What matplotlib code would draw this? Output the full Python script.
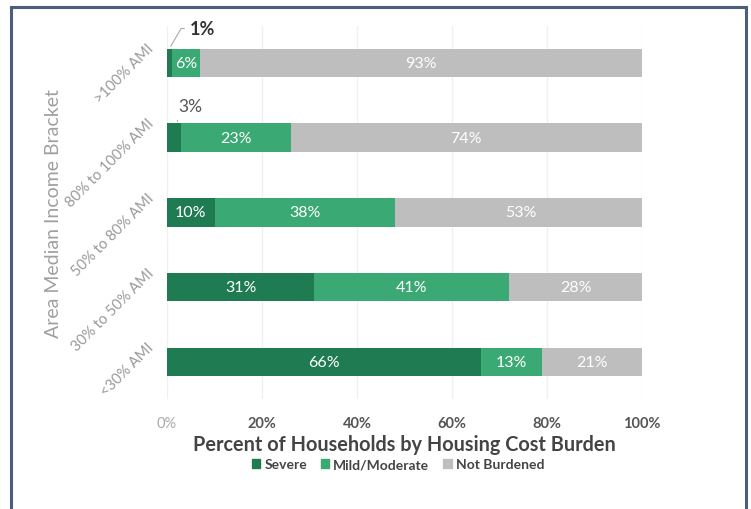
import matplotlib
matplotlib.use("Agg")
import matplotlib.pyplot as plt
import matplotlib.patches as patches
import numpy as np

# ====== data ======
brackets = ["<30% AMI", "30% to 50% AMI", "50% to 80% AMI", "80% to 100% AMI", ">100% AMI"]
severe = [66, 31, 10, 3, 1]
mild = [13, 41, 38, 23, 6]
not_burdened = [21, 28, 53, 74, 93]
series_names = ["Severe", "Mild/Moderate", "Not Burdened"]
x_ticks = [0, 20, 40, 60, 80, 100]

# ====== styles ======
colors = ["#1f7b51", "#3aa973", "#bebebe"]
plt.rcParams["font.family"] = ["Lato", "DejaVu Sans"]

fig = plt.figure(figsize=(7.51, 5.10), dpi=100)
ax = fig.add_axes([0.2224, 0.215, 0.6326, 0.733])

# frame around the whole chart
frame = patches.Rectangle((11 / 751, -0.05), 735 / 751, 1.035, transform=fig.transFigure,
                          fill=False, edgecolor="#4a5f80", linewidth=2.2, clip_on=False)
fig.add_artist(frame)

y = np.arange(len(brackets))
left = np.zeros(len(brackets))
for vals, c in zip([severe, mild, not_burdened], colors):
    ax.barh(y, vals, left=left, height=0.38, color=c, zorder=2)
    for i, v in enumerate(vals):
        if v >= 5:
            ax.text(left[i] + v / 2, y[i], f"{v}%", ha="center", va="center",
                    color="white", fontsize=11.5, zorder=3)
    left = left + np.array(vals)

# small severe values get callouts above the bar
ax.annotate(f"{severe[4]}%", xy=(severe[4] / 2, 4 + 0.19), xytext=(7.5, 4.46),
            fontsize=13, fontweight="bold", color="#333333", ha="center", va="center",
            arrowprops=dict(arrowstyle="-", color="#aaaaaa", lw=0.8,
                            connectionstyle="angle,angleA=0,angleB=60"))
ax.annotate(f"{severe[3]}%", xy=(severe[3] / 2 + 0.5, 3 + 0.19), xytext=(5, 3.42),
            fontsize=12.5, color="#555555", ha="center", va="center",
            arrowprops=dict(arrowstyle="-", color="#aaaaaa", lw=0.8,
                            connectionstyle="angle,angleA=0,angleB=90"))

ax.set_xlim(0, 100)
ax.set_ylim(-0.5, 4.5)
ax.set_xticks(x_ticks)
ax.set_xticklabels([f"{t}%" for t in x_ticks], fontsize=10.5, fontweight="bold", color="#555555")
ax.get_xticklabels()[0].set_color("#aaaaaa")
ax.get_xticklabels()[0].set_fontweight("normal")

# rotated bracket labels, drawn as text so they can sit a bit above each bar
ax.set_yticks(y)
ax.set_yticklabels([])
for yi, name in zip(y, brackets):
    ax.text(-3.2, yi + 0.23, name, rotation=45, ha="right", va="center",
            rotation_mode="anchor", fontsize=10.5, color="#999999", clip_on=False)

ax.tick_params(axis="x", length=0, pad=12)
ax.tick_params(axis="y", length=0)
ax.xaxis.grid(True, color="#f0f0f0", linewidth=1, zorder=0)
ax.set_axisbelow(True)
for s in ax.spines.values():
    s.set_visible(False)

ax.set_xlabel("Percent of Households by Housing Cost Burden", fontsize=14.3, fontweight="bold",
              color="#444444", labelpad=3)
ax.set_ylabel("Area Median Income Bracket", fontsize=14, color="#a0a0a0")
ax.yaxis.set_label_coords(-0.222, 0.5)

handles = [patches.Patch(color=c) for c in colors]
fig.legend(handles, series_names, loc="center", bbox_to_anchor=(0.53, 0.088), ncol=3,
           frameon=False, handlelength=0.6, handleheight=0.6,
           handletextpad=0.3, columnspacing=1.0, labelcolor="#444444",
           prop={"weight": "bold", "size": 10})

fig.savefig("out.png", dpi=100)
